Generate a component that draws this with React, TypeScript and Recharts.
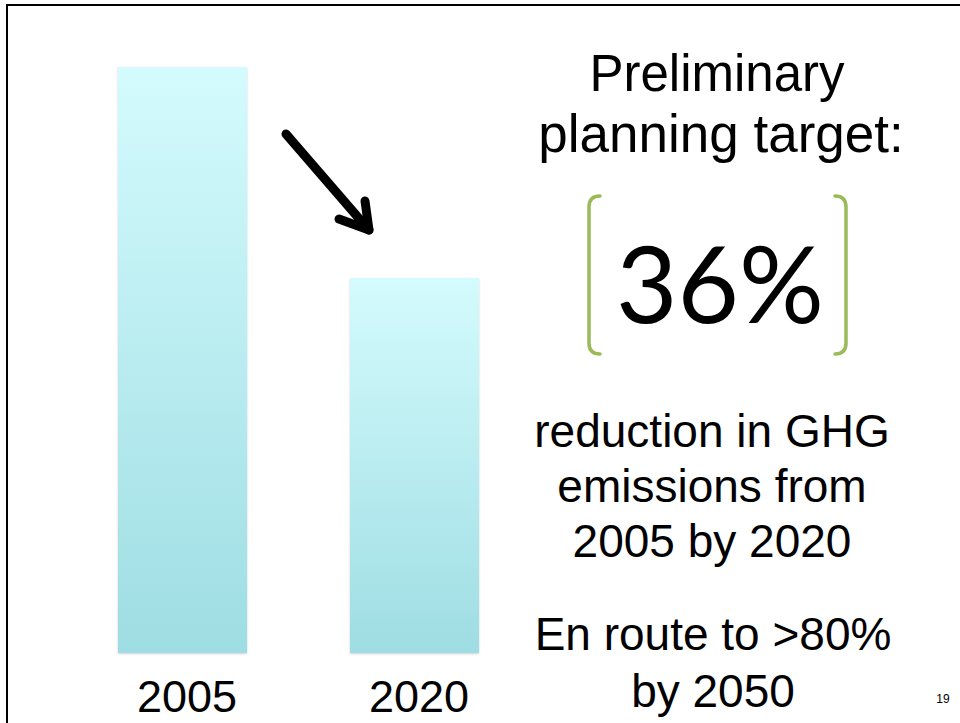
import { BarChart, Bar, XAxis, YAxis } from "recharts";

// emissions index, 2005 = 100, 2020 target = 36% lower
const years = ["2005", "2020"];
const emissions = [100, 64];
const yDomain = [0, 100];

const rows = years.map((year, i) => ({ year, emissions: emissions[i] }));

const SANS = "'Liberation Sans', Arial, Helvetica, sans-serif";

function YearTick(props: any) {
  const { x, y, payload } = props;
  return (
    <text x={x + 5} y={y + 59} textAnchor="middle" fontSize={45} fontFamily={SANS} fill="#000">
      {payload.value}
    </text>
  );
}

export default function App() {
  return (
    <div style={{ position: "fixed", left: 0, top: 0, width: 960, height: 723, background: "#fff", overflow: "hidden" }}>
      {/* slide frame */}
      <div
        style={{
          position: "absolute",
          left: 6,
          top: 4,
          width: 980,
          height: 760,
          borderTop: "2px solid #000",
          borderLeft: "2px solid #000",
        }}
      />

      <div style={{ position: "absolute", left: 0, top: 0 }}>
        <BarChart width={960} height={723} data={rows} margin={{ top: 67, right: 430, left: 66, bottom: 0 }}>
          <defs>
            <linearGradient id="barFill" x1="0" y1="0" x2="0" y2="1">
              <stop offset="0%" stopColor="#d4fbfd" />
              <stop offset="100%" stopColor="#9edde3" />
            </linearGradient>
            <filter id="barShadow" x="-5%" y="-5%" width="110%" height="110%">
              <feDropShadow dx="0" dy="1" stdDeviation="1.2" floodColor="#000" floodOpacity="0.18" />
            </filter>
          </defs>
          <XAxis
            dataKey="year"
            axisLine={false}
            tickLine={false}
            tickSize={0}
            tickMargin={0}
            height={70}
            tick={<YearTick />}
            interval={0}
          />
          <YAxis hide domain={yDomain} />
          <Bar
            dataKey="emissions"
            barSize={129}
            fill="url(#barFill)"
            filter="url(#barShadow)"
            isAnimationActive={false}
          />
        </BarChart>
      </div>

      {/* annotations */}
      <svg width={960} height={723} style={{ position: "absolute", left: 0, top: 0, pointerEvents: "none" }}>
        <g stroke="#000" strokeWidth={9} strokeLinecap="round" strokeLinejoin="round" fill="none">
          <line x1={286} y1={134} x2={369} y2={230} />
          <polyline points="365,201 369,230 339,219" />
        </g>

        <g fontFamily={SANS} fill="#000" textAnchor="middle">
          <text x={717} y={91} fontSize={51}>Preliminary</text>
          <text x={721} y={152} fontSize={53}>planning target:</text>

          <text x={712} y={447} fontSize={46}>reduction in GHG</text>
          <text x={712} y={502} fontSize={46}>emissions from</text>
          <text x={712} y={557} fontSize={46}>2005 by 2020</text>
          <text x={713} y={650} fontSize={46}>En route to &gt;80%</text>
          <text x={713} y={707} fontSize={46}>by 2050</text>

          <text x={943} y={703} fontSize={12}>19</text>
        </g>

        <text x={720} y={323} fontSize={106} fontFamily="Lato, 'Open Sans', sans-serif" textAnchor="middle" fill="#000">
          36%
        </text>

        <g stroke="#9bbb59" strokeWidth={3.5} fill="none" strokeLinecap="round">
          <path d="M 600 196 Q 589 196 589 207 L 589 343 Q 589 354 600 354" />
          <path d="M 835 196 Q 846 196 846 207 L 846 343 Q 846 354 835 354" />
        </g>
      </svg>
    </div>
  );
}
